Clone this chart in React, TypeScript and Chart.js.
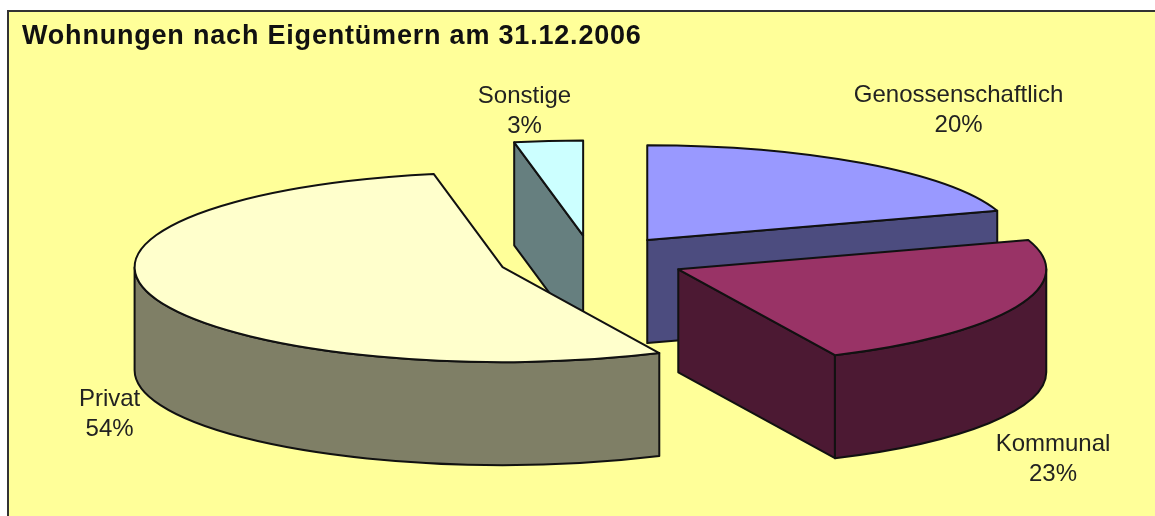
import React, { useEffect, useRef } from "react";
import { Chart, registerables } from "chart.js";

Chart.register(...registerables);

const categories = ["Genossenschaftlich", "Kommunal", "Privat", "Sonstige"];
const shares = [20, 23, 54, 3];
const topColors = ["#9999FF", "#993366", "#FFFFCC", "#CCFFFF"];
const sideColors = ["#4C4C7F", "#4C1933", "#7F7F66", "#667F7F"];
const chartTitle = "Wohnungen nach Eigentümern am 31.12.2006";

const TILT = 0.258;
const DEPTH = 103;
const LABEL_GAP = 30;
const labelNudges = [
  [95, -53],
  [37, 152],
  [-43, 118],
  [-24, -30],
];
const paintOrder = [3, 0, 1, 2];

const pie3d = {
  id: "pie3d",
  beforeDraw(chart: any) {
    chart.ctx.letterSpacing = "0.8px";
  },
  beforeDatasetsDraw(chart: any) {
    const ctx = chart.ctx;
    const arcs = chart.getDatasetMeta(0).data;
    for (const i of paintOrder) {
      const arc = arcs[i];
      const { x, y, startAngle: a1, endAngle: a2, outerRadius: r } = arc;
      // Chart.js translates an arc by options.offset / 4 along its mid angle
      const off = (arc.options.offset || 0) / 4;
      const mid = (a1 + a2) / 2;
      const cx = x + Math.cos(mid) * off;
      const cy = y + Math.sin(mid) * off * TILT;
      const ry = r * TILT;
      ctx.save();
      ctx.lineWidth = 2;
      ctx.lineJoin = "round";
      ctx.strokeStyle = "#111";
      const paint = (fill: string) => {
        ctx.fillStyle = fill;
        ctx.fill();
        ctx.stroke();
      };
      const radialWall = (a: number) => {
        const ex = cx + r * Math.cos(a);
        const ey = cy + ry * Math.sin(a);
        ctx.beginPath();
        ctx.moveTo(cx, cy);
        ctx.lineTo(ex, ey);
        ctx.lineTo(ex, ey + DEPTH);
        ctx.lineTo(cx, cy + DEPTH);
        ctx.closePath();
        paint(sideColors[i]);
      };
      if (-Math.cos(a1) > 0) radialWall(a1);
      if (Math.cos(a2) > 0) radialWall(a2);
      // outer rim: only the half of the ellipse that faces the viewer
      const twoPi = Math.PI * 2;
      for (const k of [-1, 0, 1]) {
        const from = Math.max(a1, k * twoPi);
        const to = Math.min(a2, k * twoPi + Math.PI);
        if (to > from) {
          ctx.beginPath();
          ctx.ellipse(cx, cy, r, ry, 0, from, to);
          ctx.ellipse(cx, cy + DEPTH, r, ry, 0, to, from, true);
          ctx.closePath();
          paint(sideColors[i]);
        }
      }
      ctx.beginPath();
      ctx.moveTo(cx, cy);
      ctx.ellipse(cx, cy, r, ry, 0, a1, a2);
      ctx.closePath();
      paint(topColors[i]);
      ctx.restore();
    }
    // labels
    ctx.save();
    ctx.letterSpacing = "0px";
    ctx.font = '24px "Liberation Sans", Arial, sans-serif';
    ctx.fillStyle = "#222";
    ctx.textAlign = "center";
    ctx.textBaseline = "middle";
    arcs.forEach((arc: any, i: number) => {
      const { x, y, startAngle: a1, endAngle: a2, outerRadius: r } = arc;
      const off = (arc.options.offset || 0) / 4;
      const mid = (a1 + a2) / 2;
      const lx = x + Math.cos(mid) * (off + r) + labelNudges[i][0];
      const ly = y + Math.sin(mid) * (off + r) * TILT + labelNudges[i][1];
      ctx.fillText(categories[i], lx, ly - LABEL_GAP / 2);
      ctx.fillText(`${shares[i]}%`, lx, ly + LABEL_GAP / 2);
    });
    ctx.restore();
    return false;
  },
};

export default function App() {
  const ref = useRef<HTMLCanvasElement>(null);
  useEffect(() => {
    const chart = new Chart(ref.current!, {
      type: "pie",
      data: {
        labels: categories,
        datasets: [
          {
            data: shares,
            backgroundColor: topColors,
            borderWidth: 0,
            offset: 376,
            radius: 368,
          } as any,
        ],
      },
      options: {
        animation: false,
        responsive: false,
        rotation: 0,
        layout: { padding: { left: 13, right: 0, top: 0, bottom: 59 } },
        plugins: {
          legend: { display: false },
          tooltip: { enabled: false },
          title: {
            display: true,
            text: chartTitle,
            align: "start",
            color: "#111",
            font: { family: '"Liberation Sans", Arial, sans-serif', size: 27, weight: "bold" },
            padding: { top: 8, bottom: 10 },
          },
        },
      },
      plugins: [pie3d],
    } as any);
    return () => chart.destroy();
  }, []);
  return (
    <div style={{ position: "fixed", inset: 0, background: "#fff", overflow: "hidden" }}>
      <div
        style={{
          position: "absolute",
          left: 7,
          top: 10,
          width: 1148,
          height: 506,
          boxSizing: "border-box",
          background: "#FFFF99",
          borderLeft: "2px solid #333",
          borderTop: "2px solid #333",
          overflow: "hidden",
        }}
      >
        <canvas ref={ref} width={1153} height={504} style={{ display: "block" }} />
      </div>
    </div>
  );
}
